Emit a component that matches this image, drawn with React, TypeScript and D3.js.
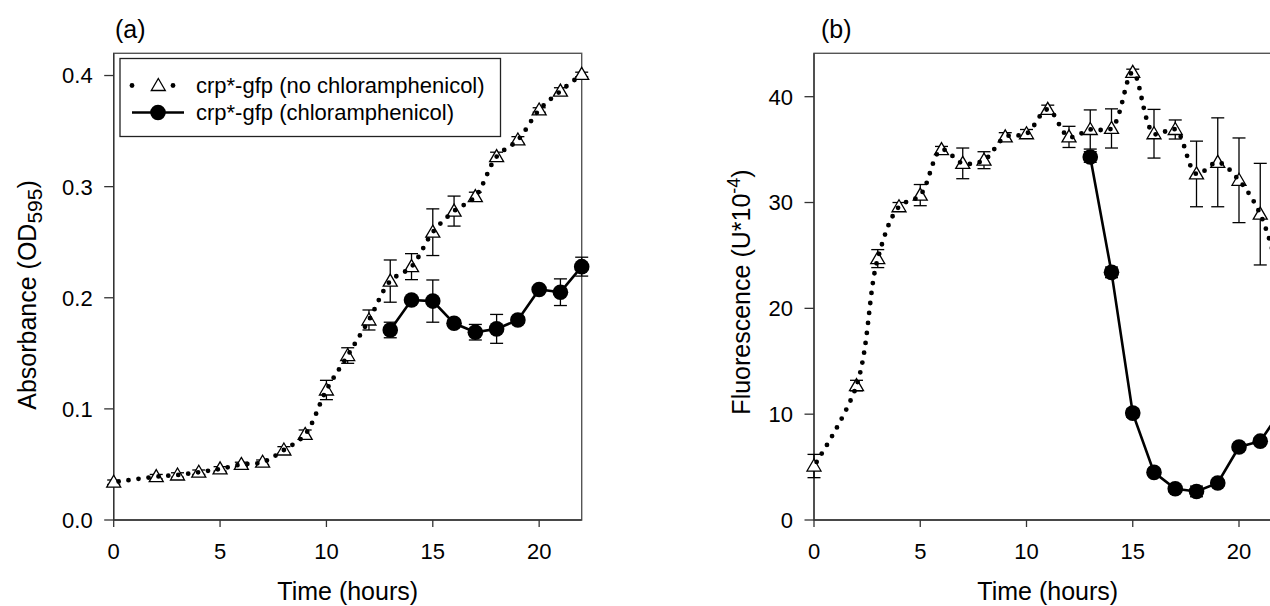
import React from "react";
import * as d3 from "d3";

// ---------- data ----------
const hoursNoCm = [0, 2, 3, 4, 5, 6, 7, 8, 9, 10, 11, 12, 13, 14, 15, 16, 17, 18, 19, 20, 21, 22];
const hoursCm = [13, 14, 15, 16, 17, 18, 19, 20, 21, 22];

const absNoCm = [0.034, 0.039, 0.0405, 0.043, 0.046, 0.05, 0.052, 0.063, 0.077, 0.117, 0.148, 0.18, 0.215, 0.228, 0.259, 0.278, 0.291, 0.327, 0.342, 0.369, 0.386, 0.401];
const absNoCmErr = [0.002, 0.002, 0.002, 0.002, 0.002, 0.002, 0.002, 0.003, 0.004, 0.0087, 0.007, 0.009, 0.019, 0.0117, 0.021, 0.0135, 0.004, 0.004, 0.003, 0.002, 0.003, 0.002];
const absCm = [0.171, 0.198, 0.197, 0.177, 0.169, 0.172, 0.18, 0.2075, 0.205, 0.228];
const absCmErr = [0.007, 0.003, 0.019, 0.003, 0.007, 0.013, 0.003, 0.002, 0.012, 0.0085];

const fluNoCm = [5.1, 12.7, 24.7, 29.6, 30.7, 35.0, 33.7, 34.0, 36.2, 36.5, 38.8, 36.2, 36.9, 37.0, 42.3, 36.5, 36.9, 32.7, 33.8, 32.1, 28.9, 22.5];
const fluNoCmErr = [1.1, 0.5, 0.85, 0.4, 1.0, 0.3, 1.45, 0.8, 0.4, 0.4, 0.4, 1.0, 1.85, 1.85, 0.3, 2.3, 0.9, 3.1, 4.2, 4.0, 4.8, 2.0];
const fluCm = [34.3, 23.4, 10.1, 4.5, 2.95, 2.7, 3.5, 6.9, 7.45, 10.4];
const fluCmErr = [0.5, 0.5, 0.4, 0.3, 0.3, 0.5, 0.3, 0.3, 0.3, 0.3];

const xTicks = [0, 5, 10, 15, 20];
const absTicks = [0, 0.1, 0.2, 0.3, 0.4];
const fluTicks = [0, 10, 20, 30, 40];

const legendLabels = ["crp*-gfp (no chloramphenicol)", "crp*-gfp (chloramphenicol)"];

const FONT = "'Liberation Sans', Arial, Helvetica, sans-serif";
const W = 1270;
const H = 606;
const CIRCLE_R = 7.8;

type PanelProps = {
  left: number;
  top: number;
  right: number;
  bottom: number;
  yMax: number;
  yTicks: number[];
  yFmt: (v: number) => string;
  letter: string;
  letterX: number;
  yTitle: React.ReactNode;
  yTitleX: number;
  yTitleY: number;
  tri: number[];
  triErr: number[];
  circ: number[];
  circErr: number[];
  legend?: boolean;
};

function TrianglePath(cx: number, cy: number) {
  return `M${cx},${cy - 7} L${cx + 7},${cy + 5} L${cx - 7},${cy + 5} Z`;
}

function Panel(p: PanelProps) {
  const x = d3.scaleLinear().domain([0, 22]).range([p.left, p.right]);
  const y = d3.scaleLinear().domain([0, p.yMax]).range([p.bottom, p.top]);

  const triPts: [number, number][] = hoursNoCm.map((h, i) => [x(h), y(p.tri[i])]);
  const circPts: [number, number][] = hoursCm.map((h, i) => [x(h), y(p.circ[i])]);

  const dotted = d3.line().curve(d3.curveCatmullRom.alpha(0.5))(triPts) || "";
  const solid = d3.line()(circPts) || "";

  const errBar = (hx: number, v: number, e: number, key: string) => {
    const px = x(hx);
    const y1 = y(v + e);
    const y2 = y(v - e);
    return (
      <g key={key} stroke="#000" strokeWidth={1.3}>
        <line x1={px} x2={px} y1={y1} y2={y2} />
        <line x1={px - 6.5} x2={px + 6.5} y1={y1} y2={y1} />
        <line x1={px - 6.5} x2={px + 6.5} y1={y2} y2={y2} />
      </g>
    );
  };

  return (
    <g>
      <rect
        x={p.left}
        y={p.top}
        width={p.right - p.left}
        height={p.bottom - p.top}
        fill="none"
        stroke="#555"
        strokeWidth={1.4}
      />
      <line x1={p.left} x2={p.left} y1={p.top} y2={p.bottom} stroke="#333" strokeWidth={1.3} />
      <line x1={p.left} x2={p.right} y1={p.bottom} y2={p.bottom} stroke="#333" strokeWidth={1.3} />
      {p.yTicks.map((t) => (
        <g key={"yt" + t}>
          <line x1={p.left - 9.5} x2={p.left} y1={y(t)} y2={y(t)} stroke="#333" strokeWidth={1.3} />
          <text
            x={p.left - 21}
            y={y(t)}
            dy="0.36em"
            textAnchor="end"
            fontSize={22}
            fontFamily={FONT}
            fill="#000"
          >
            {p.yFmt(t)}
          </text>
        </g>
      ))}
      {xTicks.map((t) => (
        <g key={"xt" + t}>
          <line x1={x(t)} x2={x(t)} y1={p.bottom} y2={p.bottom + 7} stroke="#333" strokeWidth={1.3} />
          <text x={x(t)} y={559} textAnchor="middle" fontSize={22} fontFamily={FONT} fill="#000">
            {t}
          </text>
        </g>
      ))}
      <text x={(p.left + p.right) / 2} y={600} textAnchor="middle" fontSize={25} fontFamily={FONT} fill="#000">
        Time (hours)
      </text>
      <text
        transform={`translate(${p.yTitleX},${p.yTitleY}) rotate(-90)`}
        textAnchor="middle"
        fontSize={25}
        fontFamily={FONT}
        fill="#000"
      >
        {p.yTitle}
      </text>
      <text x={p.letterX} y={38} fontSize={25} fontFamily={FONT} fill="#000">
        {p.letter}
      </text>

      {hoursNoCm.map((h, i) => errBar(h, p.tri[i], p.triErr[i], "te" + i))}
      {hoursCm.map((h, i) => errBar(h, p.circ[i], p.circErr[i], "ce" + i))}

      <path d={solid} fill="none" stroke="#000" strokeWidth={2.6} />

      {triPts.map(([cx, cy], i) => (
        <path key={"tr" + i} d={TrianglePath(cx, cy)} fill="#fff" stroke="#000" strokeWidth={1.3} />
      ))}
      <path
        d={dotted}
        fill="none"
        stroke="#000"
        strokeWidth={4.8}
        strokeLinecap="round"
        strokeDasharray="0 10"
        strokeDashoffset={-5}
      />
      {circPts.map(([cx, cy], i) => (
        <circle key={"ci" + i} cx={cx} cy={cy} r={CIRCLE_R} fill="#000" />
      ))}

      {p.legend && (
        <g>
          <rect x={120} y={58.5} width={380.5} height={78} fill="#fff" stroke="#222" strokeWidth={1.3} />
          <line x1={132} x2={139} y1={85.5} y2={85.5} stroke="#000" strokeWidth={4.8} strokeLinecap="round" strokeDasharray="0 7" />
          <line x1={173} x2={180} y1={85.5} y2={85.5} stroke="#000" strokeWidth={4.8} strokeLinecap="round" strokeDasharray="0 7" />
          <path d={TrianglePath(158.3, 85.5)} fill="#fff" stroke="#000" strokeWidth={1.3} />
          <text x={196} y={93} fontSize={22} fontFamily={FONT} fill="#000">
            {legendLabels[0]}
          </text>
          <line x1={132} x2={184} y1={112.5} y2={112.5} stroke="#000" strokeWidth={2.6} />
          <circle cx={158} cy={112.5} r={CIRCLE_R} fill="#000" />
          <text x={196} y={120} fontSize={22} fontFamily={FONT} fill="#000">
            {legendLabels[1]}
          </text>
        </g>
      )}
    </g>
  );
}

export default function App() {
  const fmt1 = d3.format(".1f");
  return (
    <svg
      width={W}
      height={H}
      viewBox={`0 0 ${W} ${H}`}
      style={{ position: "absolute", left: 0, top: 0, background: "#fff" }}
    >
      <rect x={0} y={0} width={W} height={H} fill="#fff" />
      <Panel
        left={113.7}
        right={581.7}
        top={53.3}
        bottom={520}
        yMax={0.42}
        yTicks={absTicks}
        yFmt={(v) => fmt1(v)}
        letter="(a)"
        letterX={115}
        yTitleX={36}
        yTitleY={295}
        yTitle={
          <>
            <tspan>Absorbance (OD</tspan>
            <tspan fontSize={21} dy={6}>595</tspan>
            <tspan dy={-6}>)</tspan>
          </>
        }
        tri={absNoCm}
        triErr={absNoCmErr}
        circ={absCm}
        circErr={absCmErr}
        legend
      />
      <Panel
        left={814}
        right={814 + 467.5}
        top={53.3}
        bottom={520}
        yMax={44.1}
        yTicks={fluTicks}
        yFmt={(v) => String(v)}
        letter="(b)"
        letterX={821}
        yTitleX={750}
        yTitleY={292}
        yTitle={
          <>
            <tspan>Fluorescence (U*10</tspan>
            <tspan fontSize={18} dy={-10}>-4</tspan>
            <tspan dy={10}>)</tspan>
          </>
        }
        tri={fluNoCm}
        triErr={fluNoCmErr}
        circ={fluCm}
        circErr={fluCmErr}
      />
    </svg>
  );
}
